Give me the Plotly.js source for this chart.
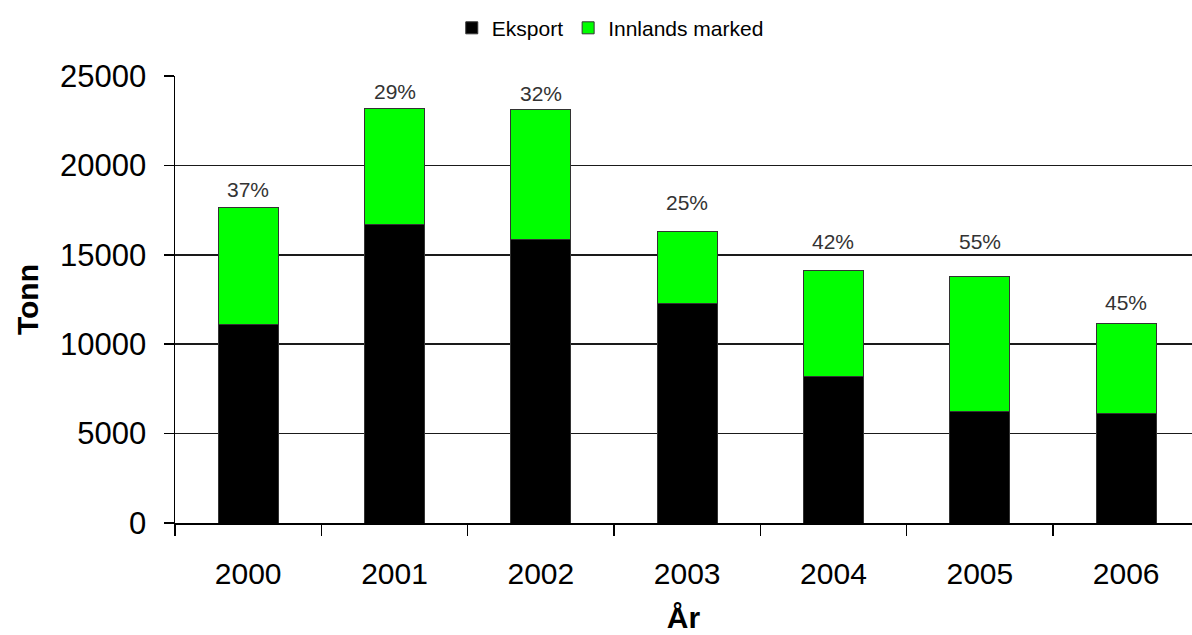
<!DOCTYPE html>
<html>
<head>
<meta charset="utf-8">
<script src="https://cdn.plot.ly/plotly-3.0.1.min.js"></script>
<style>html,body{margin:0;padding:0;background:#fff;}#chart{width:1192px;height:635px;}</style>
</head>
<body>
<div id="chart"></div>
<script>
const years = ['2000','2001','2002','2003','2004','2005','2006'];
const eksport = [11100, 16700, 15870, 12250, 8170, 6260, 6140];
const innlands = [6550, 6500, 7230, 4070, 5930, 7500, 5020];
const pctLabels = ['37%','29%','32%','25%','42%','55%','45%'];
const yTicks = [0, 5000, 10000, 15000, 20000, 25000];

const totals = eksport.map((v, i) => v + innlands[i]);

const fontFam = '"Liberation Sans", Arial, sans-serif';

// pixel gaps between bar top and its percentage label (layout only)
const labelGapPx = [4, 3, 3, 15, 16, 22, 7];

const traces = [
  {
    type: 'bar', name: 'Eksport', x: years, y: eksport,
    marker: {color: '#000000', line: {color: '#333333', width: 1}},
    width: 0.41, hoverinfo: 'x+y'
  },
  {
    type: 'bar', name: 'Innlands marked', x: years, y: innlands,
    marker: {color: '#00FF00', line: {color: '#333333', width: 1}},
    width: 0.41, hoverinfo: 'x+y'
  }
];

const annotations = years.map((yr, i) => ({
  x: i, y: totals[i], xref: 'x', yref: 'y',
  text: pctLabels[i], showarrow: false,
  yanchor: 'bottom', yshift: labelGapPx[i],
  font: {family: fontFam, size: 21, color: '#333333'}
}));

const layout = {
  width: 1192, height: 635,
  margin: {l: 175, r: 0, t: 76, b: 112},
  paper_bgcolor: '#ffffff', plot_bgcolor: '#ffffff',
  barmode: 'stack',
  font: {family: fontFam, color: '#000000'},
  showlegend: true,
  legend: {
    orientation: 'h', x: 0.428, xanchor: 'center', y: 1.107, yanchor: 'middle',
    font: {family: fontFam, size: 21, color: '#000000'},
    itemwidth: 30, traceorder: 'normal'
  },
  xaxis: {
    type: 'category', range: [-0.5, 6.45],
    tickson: 'boundaries', ticks: 'outside', ticklen: 11, tickcolor: '#000', tickwidth: 1.5,
    showline: true, linecolor: '#000', linewidth: 1.5,
    showgrid: false, zeroline: false,
    tickfont: {family: fontFam, size: 30, color: '#000'},
    ticklabelstandoff: 23,
    title: {text: '<b>År</b>', font: {family: fontFam, size: 30, color: '#000'}, standoff: 18},
    fixedrange: true
  },
  yaxis: {
    range: [0, 25000], tickvals: yTicks, ticktext: yTicks.map(String),
    ticks: 'outside', ticklen: 10, tickcolor: '#000', tickwidth: 1.5,
    showline: true, linecolor: '#000', linewidth: 1.5,
    showgrid: true, gridcolor: '#1a1a1a', gridwidth: 1.6,
    zeroline: false,
    tickfont: {family: fontFam, size: 31, color: '#000'},
    ticklabelstandoff: 11,
    title: {text: '<b>Tonn</b>', font: {family: fontFam, size: 30, color: '#000'}, standoff: 12},
    fixedrange: true
  },
  annotations: annotations
};

Plotly.newPlot('chart', traces, layout, {displayModeBar: false, staticPlot: true});
</script>
</body>
</html>
